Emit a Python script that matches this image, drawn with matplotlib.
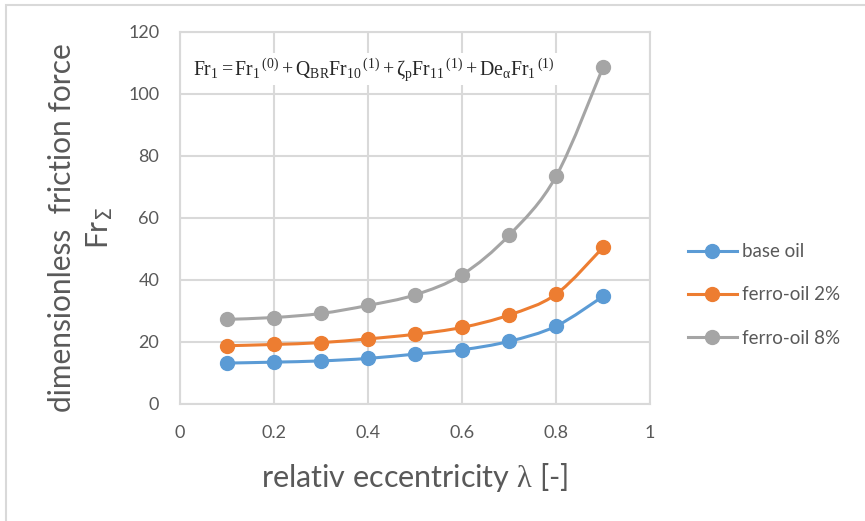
import matplotlib
matplotlib.use('Agg')
import matplotlib.pyplot as plt
from matplotlib.path import Path
from matplotlib.patches import PathPatch, Rectangle
from matplotlib.lines import Line2D
import numpy as np

# Data
eccentricity = [0.1, 0.2, 0.3, 0.4, 0.5, 0.6, 0.7, 0.8, 0.9]
base_oil = [13.2, 13.5, 13.9, 14.7, 16.1, 17.5, 20.2, 25.1, 34.7]
ferro_2 = [18.8, 19.2, 19.8, 21.0, 22.5, 24.7, 28.7, 35.4, 50.5]
ferro_8 = [27.3, 27.9, 29.2, 31.8, 35.2, 41.7, 54.4, 73.4, 108.6]

series_names = ['base oil', 'ferro-oil 2%', 'ferro-oil 8%']
series_colors = ['#5B9BD5', '#ED7D31', '#A5A5A5']

x_ticks = [0, 0.2, 0.4, 0.6, 0.8, 1]
y_ticks = [0, 20, 40, 60, 80, 100, 120]

plt.rcParams['font.family'] = ['Lato', 'DejaVu Sans']
plt.rcParams['mathtext.fontset'] = 'custom'
plt.rcParams['mathtext.rm'] = 'Liberation Serif'
plt.rcParams['mathtext.it'] = 'Liberation Serif:italic'
plt.rcParams['mathtext.sf'] = 'DejaVu Sans'

grid_col = '#D9D9D9'
text_col = '#595959'


def smooth_path(xs, ys):
    # Excel-like smoothed line: cubic Bezier segments through the points
    pts = np.column_stack([xs, ys])
    verts = [pts[0]]
    codes = [Path.MOVETO]
    n = len(pts)
    for i in range(n - 1):
        p0 = pts[i - 1] if i > 0 else pts[i]
        p1 = pts[i]
        p2 = pts[i + 1]
        p3 = pts[i + 2] if i + 2 < n else pts[i + 1]
        c1 = p1 + (p2 - p0) / 6.0
        c2 = p2 - (p3 - p1) / 6.0
        verts += [c1, c2, p2]
        codes += [Path.CURVE4] * 3
    return Path(verts, codes)


fig = plt.figure(figsize=(8.65, 5.21), dpi=100)
ax = fig.add_axes([180 / 865, 1 - 404 / 521, 470 / 865, 372 / 521])

handles = []
for ys, name, col in zip([base_oil, ferro_2, ferro_8], series_names, series_colors):
    patch = PathPatch(smooth_path(eccentricity, ys), facecolor='none',
                      edgecolor=col, lw=2.2, zorder=3, capstyle='round')
    ax.add_patch(patch)
    ax.plot(eccentricity, ys, 'o', color=col, markersize=10, zorder=4)
    handles.append(Line2D([], [], color=col, lw=2.2, marker='o', markersize=10, label=name))

ax.set_xlim(0, 1)
ax.set_ylim(0, 120)
ax.set_xticks(x_ticks)
ax.set_xticklabels(['0', '0.2', '0.4', '0.6', '0.8', '1'])
ax.set_yticks(y_ticks)
ax.tick_params(length=0, labelsize=13, labelcolor=text_col)
ax.tick_params(axis='x', pad=15)
ax.tick_params(axis='y', pad=15)
ax.grid(True, color=grid_col, lw=1.5)
ax.set_axisbelow(True)
for sp in ax.spines.values():
    sp.set_color(grid_col)
    sp.set_linewidth(1.5)

ax.text(0.028, 0.9,
        r'$\mathrm{Fr_1 = Fr_1{}^{\,(0)} + Q_{BR}Fr_{10}{}^{\,(1)} + \zeta_p Fr_{11}{}^{\,(1)} + De_\alpha Fr_1{}^{\,(1)}}$',
        transform=ax.transAxes, fontsize=14.2, va='center', ha='left', color='#262626',
        bbox=dict(facecolor='white', edgecolor='none', pad=2), zorder=5)

# axis titles
fig.text(62 / 865, 1 - 228 / 521, 'dimensionless  friction force', rotation=90,
         ha='center', va='center', fontsize=21.5, color=text_col)
fig.text(100 / 865, 1 - 228 / 521, r'Fr$_{\mathsf{\Sigma}}$', rotation=90,
         ha='center', va='center', fontsize=21.5, color=text_col)
fig.text(415 / 865, 1 - 478 / 521, r'relativ eccentricity $\mathrm{\lambda}$ [-]',
         ha='center', va='center', fontsize=22, color=text_col)

fig.legend(handles=handles, loc='center left', bbox_to_anchor=(688 / 865, 1 - 295 / 521),
           frameon=False, fontsize=13.5, handlelength=2.6, labelspacing=1.4,
           handletextpad=0.3, labelcolor=text_col, borderpad=0, borderaxespad=0)

# outer chart frame
fig.add_artist(Rectangle((6 / 865, -0.2), 1.2, 1.2 - 5 / 521, transform=fig.transFigure,
                         facecolor='none', edgecolor=grid_col, lw=1.5))

plt.savefig('out.png', dpi=100, facecolor='white')
plt.close()
